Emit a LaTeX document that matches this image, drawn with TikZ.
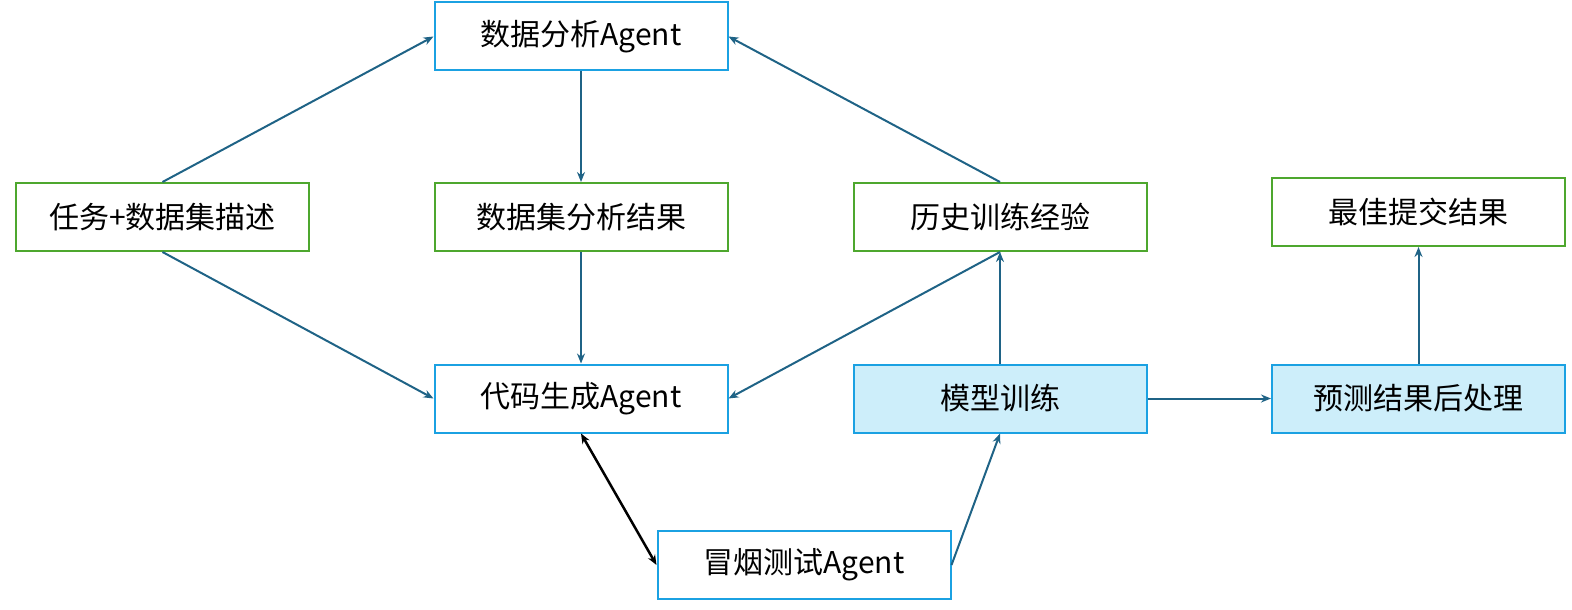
\documentclass[tikz,border=0pt]{standalone}
\usepackage{fontspec}
\setmainfont{Noto Sans CJK SC}
\usetikzlibrary{arrows.meta}
\definecolor{gb}{HTML}{4EA72E}
\definecolor{bb}{HTML}{1BA1E2}
\definecolor{lf}{HTML}{CDEEFA}
\definecolor{ac}{HTML}{1F6386}
\begin{document}
\begin{tikzpicture}[x=1pt,y=-1pt,
 box/.style={draw,line width=2pt,minimum width=293pt,minimum height=68pt,inner sep=0pt,font=\fontsize{30}{34}\selectfont,fill=white},
 g/.style={box,draw=gb},
 b/.style={box,draw=bb},
 bf/.style={box,draw=bb,fill=lf},
 ar/.style={draw=ac,line width=2pt,-{Stealth[length=10pt,width=8pt]}}]
\useasboundingbox (0,0) rectangle (1572,610);
\node[b]  (da) at (581,36.5) {数据分析Agent};
\node[g]  (rw) at (162.5,217) {任务+数据集描述};
\node[g]  (dr) at (581,217) {数据集分析结果};
\node[g]  (ls) at (1000,217) {历史训练经验};
\node[g]  (zj) at (1418.5,212) {最佳提交结果};
\node[b]  (dm) at (581,398.5) {代码生成Agent};
\node[bf] (mx) at (1000,398.5) {模型训练};
\node[bf] (yc) at (1418.5,398.5) {预测结果后处理};
\node[b]  (my) at (804,565) {冒烟测试Agent};
\draw[ar] (rw.north) -- (da.west);
\draw[ar] (rw.south) -- (dm.west);
\draw[ar] (da.south) -- (dr.north);
\draw[ar] (dr.south) -- (dm.north);
\draw[ar] (ls.north) -- (da.east);
\draw[ar] (ls.south) -- (dm.east);
\draw[ar] (mx.north) -- (ls.south);
\draw[ar] (mx.east) -- (yc.west);
\draw[ar] (yc.north) -- (zj.south);
\draw[ar] (my.east) -- (mx.south);
\draw[line width=2.5pt,{Stealth[length=10pt,width=8pt]}-{Stealth[length=10pt,width=8pt]}] (dm.south) -- (my.west);
\end{tikzpicture}
\end{document}
